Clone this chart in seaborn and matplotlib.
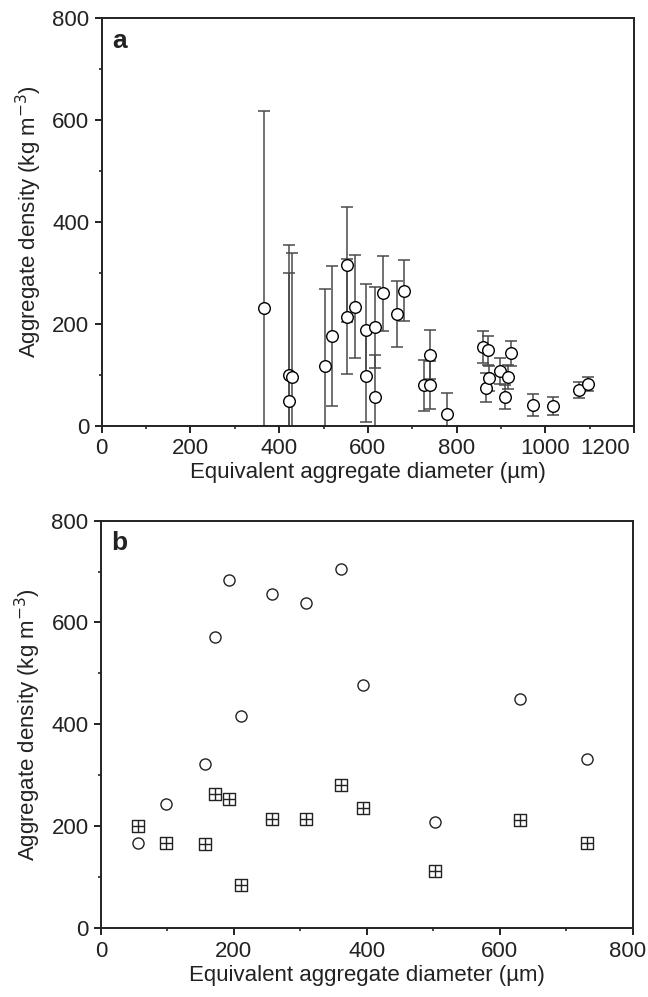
import matplotlib
matplotlib.use("Agg")
import matplotlib.pyplot as plt
from matplotlib.ticker import MultipleLocator
import numpy as np
import pandas as pd
import seaborn as sns

# Panel a: aggregate diameter (um), density (kg m-3) and error bar half-width
diam_a = [365, 422, 429, 422, 504, 519, 552, 552, 572, 595, 595, 617, 617, 634,
          665, 681, 726, 739, 741, 778, 859, 870, 867, 874, 898, 915, 910, 923,
          972, 1018, 1077, 1097]
dens_a = [232, 100, 96, 49, 118, 176, 316, 214, 234, 188, 98, 193, 57, 260,
          219, 265, 79, 80, 139, 23, 155, 148, 75, 93, 107, 96, 56, 142,
          41, 39, 70, 82]
err_a = [387, 254, 243, 250, 150, 137, 113, 113, 101, 90, 90, 80, 81, 74,
         65, 60, 50, 47, 48, 41, 31, 29, 28, 25, 26, 23, 24, 25,
         21, 18, 15, 14]

# Panel b: two density estimates for the same aggregates
diam_b = [55, 98, 157, 172, 192, 211, 257, 309, 361, 394, 502, 630, 731]
dens_b_circle = [168, 243, 322, 572, 683, 417, 656, 639, 705, 477, 209, 449, 332]
dens_b_square = [201, 168, 165, 264, 254, 84, 215, 215, 281, 237, 112, 212, 167]

sns.set_style("ticks")
plt.rcParams['font.family'] = ['Liberation Sans', 'DejaVu Sans']
plt.rcParams['axes.linewidth'] = 1.4
plt.rcParams['xtick.major.width'] = 1.4
plt.rcParams['ytick.major.width'] = 1.4
plt.rcParams['xtick.minor.width'] = 1.2
plt.rcParams['ytick.minor.width'] = 1.2
plt.rcParams['xtick.major.size'] = 5
plt.rcParams['ytick.major.size'] = 5
plt.rcParams['xtick.minor.size'] = 2.5
plt.rcParams['ytick.minor.size'] = 2.5
plt.rcParams['xtick.direction'] = 'out'
plt.rcParams['ytick.direction'] = 'out'

fig = plt.figure(figsize=(6.48, 9.97), dpi=100)
ax_a = fig.add_axes([0.157, 0.573, 0.8214, 0.4086])
ax_b = fig.add_axes([0.1559, 0.0689, 0.8202, 0.409])

df_a = pd.DataFrame({'diam': diam_a, 'dens': dens_a, 'err': err_a})
df_b = pd.DataFrame({'diam': diam_b, 'circle': dens_b_circle, 'square': dens_b_square})

# a: error bars then open circles
ax_a.errorbar(df_a['diam'], df_a['dens'], yerr=df_a['err'], fmt='none',
              ecolor='#4a4a4a', elinewidth=1.1, capsize=4, capthick=1.1, zorder=2)
sns.scatterplot(data=df_a, x='diam', y='dens', ax=ax_a, marker='o', s=70,
                facecolor='white', edgecolor='black', linewidth=1.0, zorder=3)

# b: open circles and boxed crosses
sns.scatterplot(data=df_b, x='diam', y='circle', ax=ax_b, marker='o', s=64,
                facecolor='white', edgecolor='#222222', linewidth=1.0, zorder=3)
sns.scatterplot(data=df_b, x='diam', y='square', ax=ax_b, marker='s', s=64,
                facecolor='white', edgecolor='#222222', linewidth=1.0, zorder=3)
sns.scatterplot(data=df_b, x='diam', y='square', ax=ax_b, marker='+', s=64,
                color='#222222', linewidth=1.0, zorder=4)

# (axis, x max, panel letter, offset of last x label in points, its alignment)
for ax, xmax, label, dx, ha in [(ax_a, 1200, 'a', -3, 'right'), (ax_b, 800, 'b', -3.5, 'center')]:
    ax.set_xlim(0, xmax)
    ax.set_ylim(0, 800)
    xt = list(range(0, xmax + 1, 200))
    ax.set_xticks(xt, [str(v) for v in xt[:-1]] + [''])
    ax.xaxis.set_minor_locator(MultipleLocator(100))
    ax.yaxis.set_major_locator(MultipleLocator(200))
    ax.yaxis.set_minor_locator(MultipleLocator(100))
    ax.tick_params(labelsize=16, colors='#222222', pad=4)
    ax.tick_params(which='both', top=False, right=False)
    for sp in ax.spines.values():
        sp.set_visible(True)
        sp.set_color('#222222')
    # last x label nudged left so it stays inside the figure
    ax.annotate(str(xt[-1]), xy=(xmax, 0), xycoords=('data', 'axes fraction'),
                xytext=(dx, -9), textcoords='offset points', ha=ha, va='top',
                fontsize=16, color='#222222')
    ax.set_xlabel('Equivalent aggregate diameter (µm)', fontsize=16, color='#222222', labelpad=2)
    ax.set_ylabel('Aggregate density (kg m$^{-3}$)', fontsize=16, color='#222222', labelpad=6)
    ax.text(0.02, 0.975, label, transform=ax.transAxes, fontsize=19, fontweight='bold',
            va='top', ha='left', color='#222222')

plt.savefig('out.png', dpi=100)
